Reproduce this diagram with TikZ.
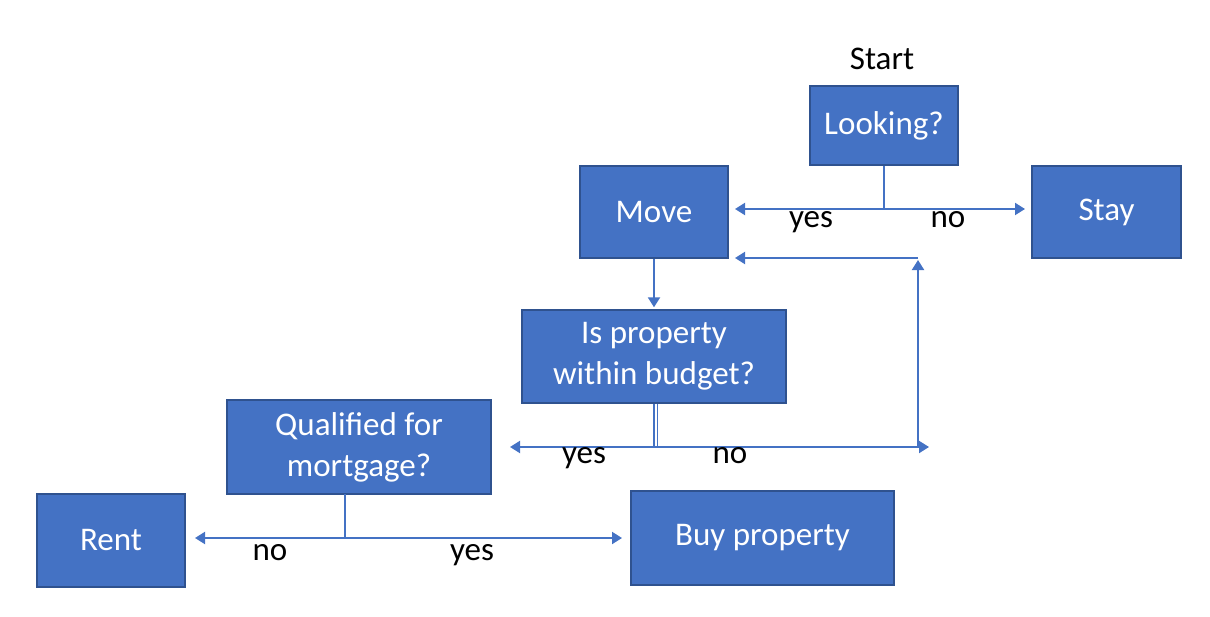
\documentclass[tikz,border=0pt]{standalone}
\usepackage{fontspec}
\setmainfont{Carlito}
\usepackage{tikz}
\usetikzlibrary{arrows.meta,positioning,calc}
\definecolor{boxblue}{HTML}{4472C4}
\definecolor{boxedge}{HTML}{2F528F}
\colorlet{linec}{boxblue}

\begin{document}
\begin{tikzpicture}[
  stepbox/.style={rectangle,fill=boxblue,draw=boxedge,line width=0.8pt,text=white,align=center,
    inner sep=0pt,font=\fontsize{18.8}{23.3}\selectfont},
  lbl/.style={font=\fontsize{18.8}{23.3}\selectfont},
  conn/.style={draw=linec,line width=0.04cm},
  arr/.style={conn,-{Triangle[length=0.2cm,width=0.24cm]}}]
\useasboundingbox (0,0) rectangle (24.20,12.32);
\node[lbl] (start) at (17.64,11.14) {Start};
\node[stepbox,minimum width=2.96cm,minimum height=1.58cm] (looking) at (17.68,9.81) {Looking?};
\node[stepbox,minimum width=2.96cm,minimum height=1.84cm] (move) at (13.08,8.08) {Move};
\node[stepbox,minimum width=2.98cm,minimum height=1.84cm] (stay) at (22.13,8.08) {Stay};
\node[stepbox,minimum width=5.28cm,minimum height=1.86cm] (budget) at (13.08,5.19) {Is property\\within budget?};
\node[stepbox,minimum width=5.28cm,minimum height=1.88cm] (qualified) at (7.18,3.38) {Qualified for\\mortgage?};
\node[stepbox,minimum width=2.96cm,minimum height=1.86cm] (rent) at (2.22,1.51) {Rent};
\node[stepbox,minimum width=5.26cm,minimum height=1.88cm] (buy) at (15.25,1.56) {Buy property};

% looking? split
\coordinate (lsplit) at (17.68,8.14);
\coordinate (lyes) at (14.70,8.14);
\coordinate (lno) at (20.50,8.14);
\draw[conn] (looking.south) -- (lsplit);
\draw[arr] (lsplit) -- (lyes);
\draw[arr] (lsplit) -- (lno);
\node[lbl,anchor=base] (yes1) at (16.22,7.76) {yes};
\node[lbl,anchor=base] (no1) at (18.96,7.76) {no};

\draw[arr,shorten >=0.04cm] (move.south) -- (budget.north);

% budget split
\coordinate (bsplit) at (13.11,3.38);
\coordinate (byes) at (10.20,3.38);
\coordinate (bno) at (18.58,3.38);
\coordinate (bcorner) at (18.36,3.38);
\coordinate (bup) at (18.36,7.12);
\coordinate (bback) at (18.36,7.16);
\coordinate (bmove) at (14.70,7.16);
\draw[draw=linec,line width=0.025cm,double=white,double distance=0.04cm] ([xshift=0.03cm]budget.south) -- (bsplit);
\draw[arr] (bsplit) -- (byes);
\draw[arr] (bsplit) -- (bno);
\draw[arr] (bcorner) -- (bup);
\draw[arr] (bback) -- (bmove);
\node[lbl,anchor=base] (yes2) at (11.68,3.06) {yes};
\node[lbl,anchor=base] (no2) at (14.60,3.06) {no};

% qualified split
\coordinate (qtop) at (6.90,2.44);
\coordinate (qsplit) at (6.90,1.56);
\coordinate (qno) at (3.90,1.56);
\coordinate (qyes) at (12.44,1.56);
\draw[conn] (qtop) -- (qsplit);
\draw[arr] (qsplit) -- (qno);
\draw[arr] (qsplit) -- (qyes);
\node[lbl,anchor=base] (no3) at (5.40,1.12) {no};
\node[lbl,anchor=base] (yes3) at (9.44,1.12) {yes};
\end{tikzpicture}
\end{document}
